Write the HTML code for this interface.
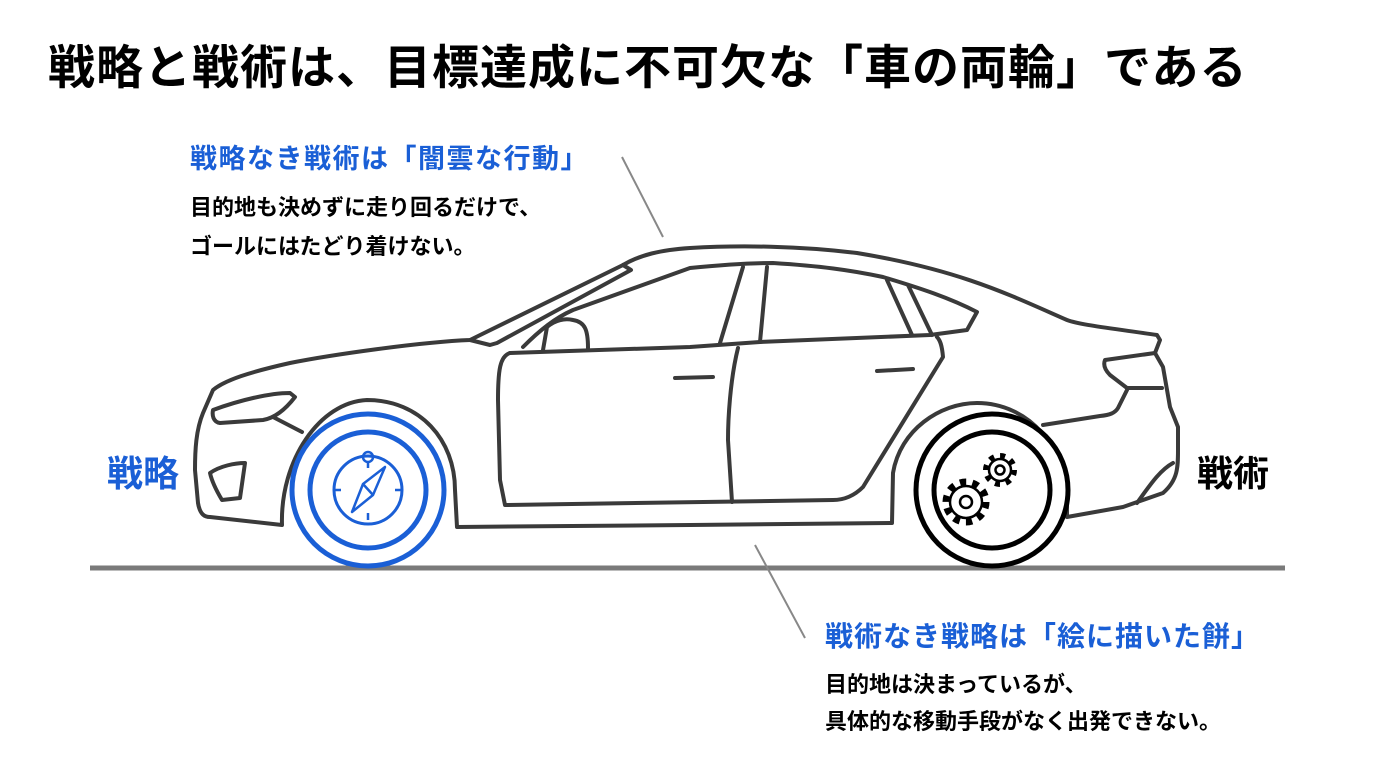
<!DOCTYPE html>
<html><head><meta charset="utf-8"><style>
body{margin:0;width:1376px;height:768px;background:#fff;overflow:hidden;position:relative;font-family:"Liberation Sans","Noto Sans CJK JP",sans-serif;font-weight:bold}
.t{position:absolute;white-space:nowrap;line-height:1}
.b{color:#1a5fd6}
</style></head><body>
<svg width="1376" height="768" style="position:absolute;left:0;top:0">
<g fill="none" stroke="#3a3a3a" stroke-width="4" stroke-linejoin="round" stroke-linecap="round">
<path d="M282,525 C280,460 320,402 367,400 C420,400 455,440 455,490 L457,527 L690,525 L892,523 L893,473 C900,430 940,403 977,403 C1030,403 1067,450 1067,500 L1067,517 L1123,507 L1163,493 C1178,480 1178,467 1178,450 L1178,427 L1170,407 L1163,367 L1155,353 L1160,340 L1157,335 C1110,328 1080,325 1067,320 C1010,295 960,270 857,253 C800,246 740,245 690,248 C660,250 640,255 623,265 L470,340 C420,342 330,355 290,363 C250,372 225,380 213,390 L203,413 C196,430 195,450 195,470 L198,503 C200,515 205,517 210,517 L282,525 Z"/>
<path d="M470,340 L490,345 L497,343 L631,270 L623,265"/>
<path d="M523,347 C540,330 555,318 573,310 L690,268 C720,265 750,263 773,263 C820,266 850,270 883,277 C920,288 950,298 977,312 L967,330 L930,335 L760,342 L690,347 L510,353"/>
<path d="M543,350 L547,327 C555,320 565,318 573,320 C585,322 588,330 588,348"/>
<path d="M510,353 C500,356 498,370 498,400 L500,480 L505,505 L833,500 C845,500 855,495 863,487 L943,357 C942,345 940,340 937,337"/>
<path d="M743,267 L720,343 M767,267 L760,342 M738,348 C730,380 728,420 728,440 L732,502"/>
<path d="M887,280 L912,335 M908,285 L932,335"/>
<path d="M675,378 L713,377 M877,371 L913,369"/>
<path d="M213,410 C240,400 270,393 290,393 L295,397 C285,410 275,418 263,420 L220,423 C213,422 212,415 213,410 Z"/>
<path d="M273,417 L302,432"/>
<path d="M210,473 C220,466 235,463 245,463 L240,498 L222,500 C216,490 212,482 210,473 Z"/>
<path d="M1155,353 L1105,360 C1103,365 1105,370 1110,375 L1127,388 L1162,388"/>
<path d="M1127,390 L1118,408 C1115,413 1110,415 1100,416 L1043,425"/>
<path d="M1137,503 C1150,485 1160,470 1173,463"/>
</g>
<line x1="90" y1="568" x2="1285" y2="568" stroke="#7a7a7a" stroke-width="5"/>
<line x1="622" y1="157" x2="663" y2="237" stroke="#888" stroke-width="2"/>
<line x1="755" y1="545" x2="805" y2="638" stroke="#888" stroke-width="2"/>
<g fill="none" stroke="#1a5fd6">
<circle cx="368" cy="490" r="76" stroke-width="5" fill="#fff"/>
<circle cx="368" cy="490" r="58" stroke-width="5"/>
<circle cx="368" cy="490" r="34" stroke-width="3"/>
<circle cx="368" cy="457" r="5" stroke-width="2.5"/>
<path d="M368,462 V468 M368,513 V520 M334,490 H341 M395,490 H402 M368,450 v0" stroke-width="2.5"/>
<path d="M385,467 L373,495 L352,512 L363,484 Z M363,484 L373,495" stroke-width="2.5" stroke-linejoin="round"/>
</g>
<g fill="none" stroke="#000">
<circle cx="992" cy="490" r="76" stroke-width="5" fill="#fff"/>
<circle cx="992" cy="490" r="58" stroke-width="5"/>
<circle cx="966" cy="502" r="20" stroke-width="7" stroke-dasharray="6.3 6.27"/>
<circle cx="966" cy="502" r="16" stroke-width="2.5" fill="#fff"/>
<circle cx="966" cy="502" r="6" stroke-width="2.5"/>
<circle cx="1000" cy="470" r="14" stroke-width="6" stroke-dasharray="5 5.99"/>
<circle cx="1000" cy="470" r="11" stroke-width="2.5" fill="#fff"/>
<circle cx="1000" cy="470" r="4.5" stroke-width="2.5"/>
</g>
</svg>
<div class="t" style="left:48px;top:44px;font-size:47px;letter-spacing:1px">戦略と戦術は、目標達成に不可欠な「車の両輪」である</div>
<div class="t b" style="left:190px;top:146px;font-size:27px;letter-spacing:1.5px">戦略なき戦術は「闇雲な行動」</div>
<div class="t" style="left:190px;top:188px;font-size:22px;line-height:39px">目的地も決めずに走り回るだけで、<br>ゴールにはたどり着けない。</div>
<div class="t b" style="left:825px;top:623px;font-size:28px;letter-spacing:1px">戦術なき戦略は「絵に描いた餅」</div>
<div class="t" style="left:825px;top:666px;font-size:22px;line-height:37px">目的地は決まっているが、<br>具体的な移動手段がなく出発できない。</div>
<div class="t b" style="left:107px;top:456px;font-size:36px">戦略</div>
<div class="t" style="left:1197px;top:456px;font-size:36px">戦術</div>
</body></html>
